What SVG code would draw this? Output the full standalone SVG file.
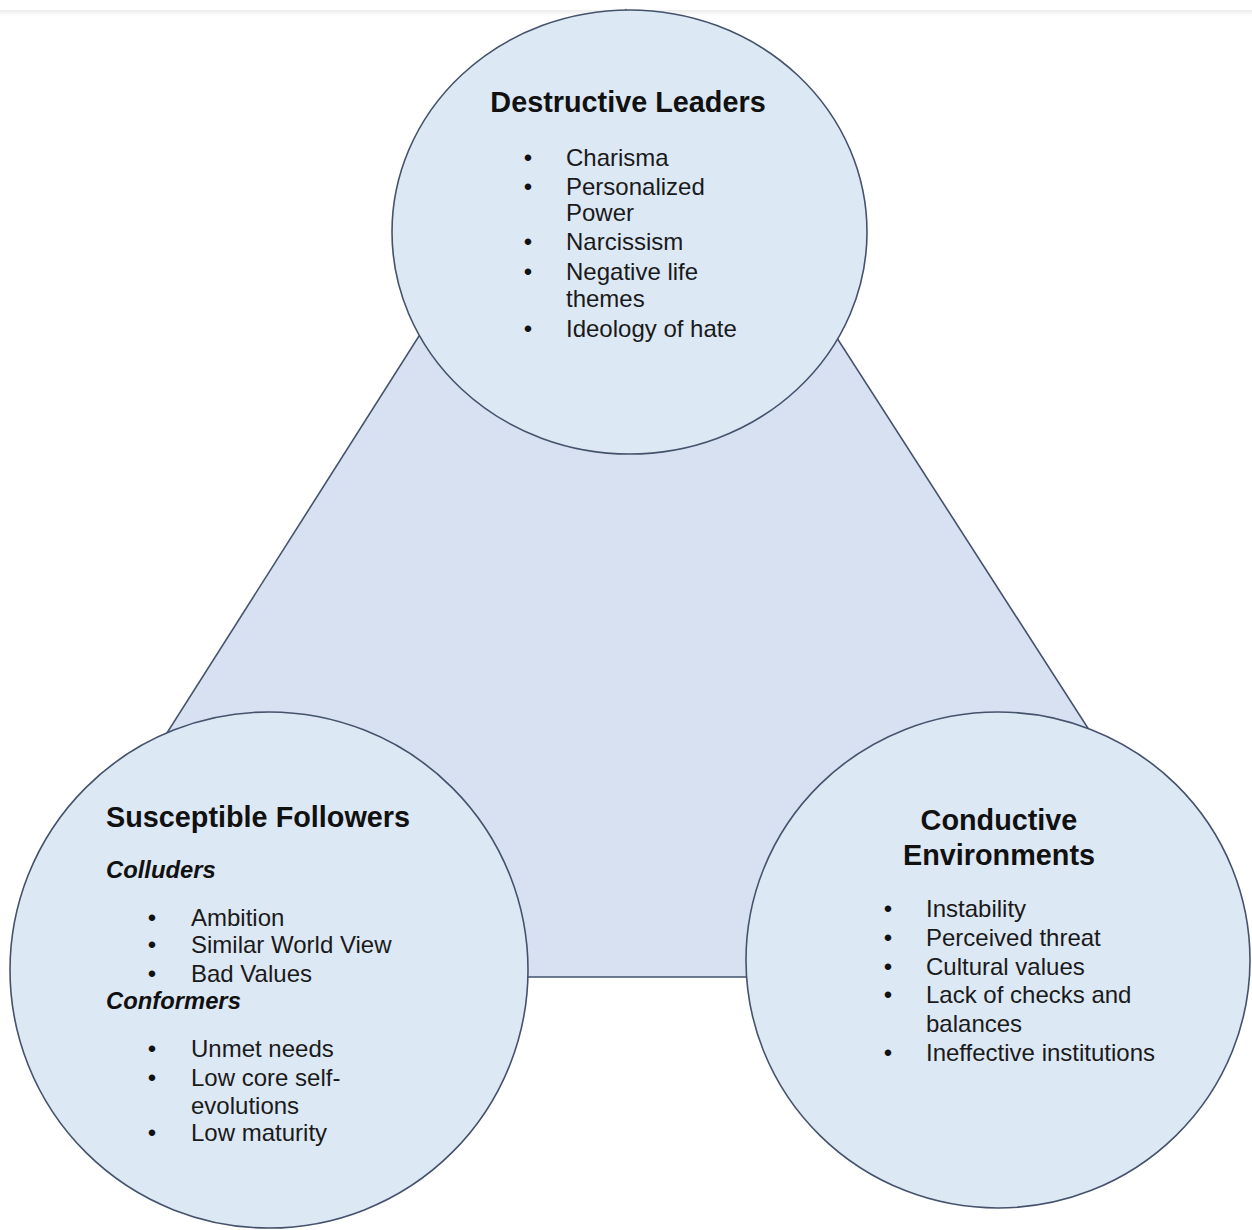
<svg xmlns="http://www.w3.org/2000/svg" width="1252" height="1230" viewBox="0 0 1252 1230">
  <defs>
    <linearGradient id="topShade" x1="0" y1="0" x2="0" y2="1">
      <stop offset="0" stop-color="#ececec"/>
      <stop offset="1" stop-color="#ffffff"/>
    </linearGradient>
    <style>
      .hub { fill: #d7e1f2; stroke: #44526c; stroke-width: 1.6; }
      .node { fill: #dde8f5; stroke: #44526c; stroke-width: 1.6; }
      .title { font-family: "Liberation Sans", Arial, sans-serif; font-weight: bold; font-size: 28.8px; fill: #111; }
      .sub { font-family: "Liberation Sans", Arial, sans-serif; font-weight: bold; font-style: italic; font-size: 23.8px; fill: #111; }
      .item { font-family: "Liberation Sans", Arial, sans-serif; font-size: 24px; fill: #1a1a1a; }
      .dot { font-family: "Liberation Sans", Arial, sans-serif; font-size: 24px; fill: #111; text-anchor: middle; }
    </style>
  </defs>

  <rect x="0" y="0" width="1252" height="1230" fill="#ffffff"/>
  <rect x="0" y="10" width="1252" height="6" fill="url(#topShade)"/>

  <!-- connecting triangle behind the three circles -->
  <g id="connectors">
    <polygon class="hub" points="626,10 12,977 1248,977"/>
  </g>

  <g id="destructive-leaders">
    <ellipse class="node" cx="629.5" cy="232" rx="237.5" ry="222"/>
    <text class="title" x="628" y="112" text-anchor="middle">Destructive Leaders</text>
    <text class="dot" x="528" y="166">•</text>
    <text class="item" x="566" y="166">Charisma</text>
    <text class="dot" x="528" y="195">•</text>
    <text class="item" x="566" y="195">Personalized</text>
    <text class="item" x="566" y="221">Power</text>
    <text class="dot" x="528" y="250">•</text>
    <text class="item" x="566" y="250">Narcissism</text>
    <text class="dot" x="528" y="280">•</text>
    <text class="item" x="566" y="280">Negative life</text>
    <text class="item" x="566" y="307">themes</text>
    <text class="dot" x="528" y="337">•</text>
    <text class="item" x="566" y="337">Ideology of hate</text>
  </g>

  <g id="susceptible-followers">
    <ellipse class="node" cx="269" cy="970" rx="259" ry="258"/>
    <text class="title" x="106" y="827">Susceptible Followers</text>
    <text class="sub" x="106" y="878">Colluders</text>
    <text class="dot" x="152" y="926">•</text>
    <text class="item" x="191" y="926">Ambition</text>
    <text class="dot" x="152" y="953">•</text>
    <text class="item" x="191" y="953">Similar World View</text>
    <text class="dot" x="152" y="982">•</text>
    <text class="item" x="191" y="982">Bad Values</text>
    <text class="sub" x="106" y="1009">Conformers</text>
    <text class="dot" x="152" y="1057">•</text>
    <text class="item" x="191" y="1057">Unmet needs</text>
    <text class="dot" x="152" y="1086">•</text>
    <text class="item" x="191" y="1086">Low core self-</text>
    <text class="item" x="191" y="1114">evolutions</text>
    <text class="dot" x="152" y="1141">•</text>
    <text class="item" x="191" y="1141">Low maturity</text>
  </g>

  <g id="conductive-environments">
    <ellipse class="node" cx="998" cy="960" rx="252" ry="248"/>
    <text class="title" x="999" y="830" text-anchor="middle">Conductive</text>
    <text class="title" x="999" y="865" text-anchor="middle">Environments</text>
    <text class="dot" x="888" y="917">•</text>
    <text class="item" x="926" y="917">Instability</text>
    <text class="dot" x="888" y="946">•</text>
    <text class="item" x="926" y="946">Perceived threat</text>
    <text class="dot" x="888" y="975">•</text>
    <text class="item" x="926" y="975">Cultural values</text>
    <text class="dot" x="888" y="1003">•</text>
    <text class="item" x="926" y="1003">Lack of checks and</text>
    <text class="item" x="926" y="1032">balances</text>
    <text class="dot" x="888" y="1061">•</text>
    <text class="item" x="926" y="1061">Ineffective institutions</text>
  </g>
</svg>
